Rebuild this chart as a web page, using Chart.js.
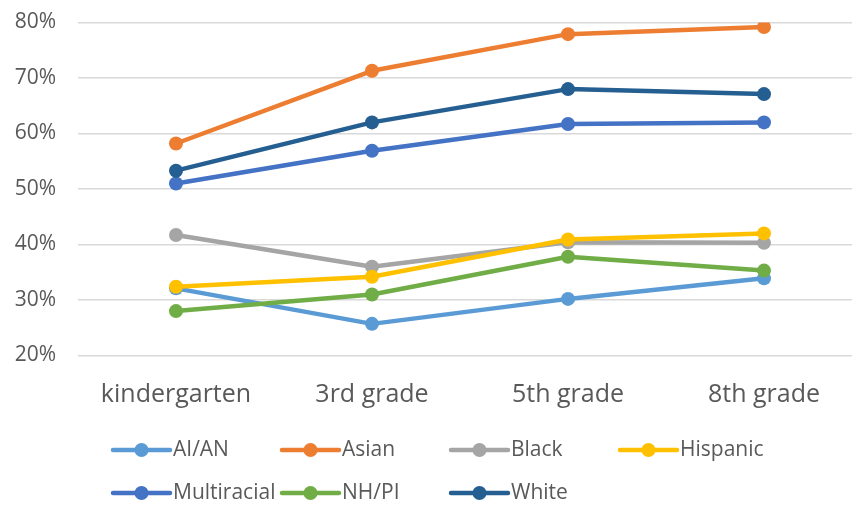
<!DOCTYPE html>
<html>
<head>
<meta charset="utf-8">
<script src="https://cdn.jsdelivr.net/npm/chart.js@4"></script>
<style>
  html, body { margin: 0; padding: 0; background: #fff; overflow: hidden; }
  #wrap { width: 852px; height: 506px; overflow: hidden; }
</style>
</head>
<body>
<div id="wrap"><canvas id="gradeChart" width="870" height="506"></canvas></div>
<script>
const grades = ['kindergarten', '3rd grade', '5th grade', '8th grade'];
const yTicks = [20, 30, 40, 50, 60, 70, 80];

const aian = [32.1, 25.7, 30.2, 33.9];
const asian = [58.2, 71.3, 77.9, 79.2];
const black = [41.7, 36.0, 40.4, 40.3];
const hispanic = [32.4, 34.2, 40.9, 42.0];
const multiracial = [51.0, 56.9, 61.7, 62.0];
const nhpi = [28.0, 31.0, 37.8, 35.3];
const white = [53.3, 62.0, 68.0, 67.1];

const seriesNames = ['AI/AN', 'Asian', 'Black', 'Hispanic', 'Multiracial', 'NH/PI', 'White'];
const seriesData = [aian, asian, black, hispanic, multiracial, nhpi, white];
const seriesColors = ['#5B9BD5', '#ED7D31', '#A5A5A5', '#FFC000', '#4472C4', '#70AD47', '#255E91'];

const textColor = '#595959';
const fontFamily = "'Open Sans', 'DejaVu Sans', sans-serif";

// legend drawn as a grid like the original (4 columns, 2 rows)
const gridLegend = {
    id: 'gridLegend',
    afterDraw(chart) {
        const ctx = chart.ctx;
        const startX = 113, colW = 169, rowY = [450, 493], lineLen = 57;
        ctx.save();
        chart.data.datasets.forEach((ds, i) => {
            const x = startX + (i % 4) * colW;
            const y = rowY[Math.floor(i / 4)];
            ctx.strokeStyle = ds.borderColor;
            ctx.lineWidth = 4.5;
            ctx.lineCap = 'round';
            ctx.beginPath();
            ctx.moveTo(x, y);
            ctx.lineTo(x + lineLen, y);
            ctx.stroke();
            ctx.fillStyle = ds.borderColor;
            ctx.beginPath();
            ctx.arc(x + lineLen / 2, y, 7, 0, Math.PI * 2);
            ctx.fill();
            ctx.fillStyle = textColor;
            ctx.font = '21px ' + fontFamily;
            ctx.textBaseline = 'middle';
            ctx.textAlign = 'left';
            ctx.fillText(ds.label, x + lineLen + 3, y);
        });
        ctx.restore();
    }
};

const ctx = document.getElementById('gradeChart').getContext('2d');
new Chart(ctx, {
    type: 'line',
    data: {
        labels: grades,
        datasets: seriesNames.map((name, i) => ({
            label: name,
            data: seriesData[i],
            borderColor: seriesColors[i],
            backgroundColor: seriesColors[i],
            borderWidth: 4.5,
            borderCapStyle: 'round',
            borderJoinStyle: 'round',
            pointRadius: 7,
            pointBorderWidth: 0,
            pointBackgroundColor: seriesColors[i],
            tension: 0,
            order: seriesNames.length - i   // later series drawn on top
        }))
    },
    options: {
        responsive: false,
        animation: false,
        layout: {
            padding: { left: 15, right: 8, top: 22.5, bottom: 90.5 }
        },
        plugins: {
            legend: { display: false },
            tooltip: { enabled: false }
        },
        scales: {
            x: {
                offset: true,
                afterFit(scale) { scale.height = 60; },
                grid: { display: false },
                border: { display: false },
                ticks: {
                    color: textColor,
                    padding: 16,
                    font: { family: fontFamily, size: 25 }
                }
            },
            y: {
                min: 20,
                max: 80,
                afterFit(scale) {
                    scale.width = 63;
                    scale.paddingTop = 0;
                    scale.paddingBottom = 0;
                },
                afterBuildTicks(scale) {
                    scale.ticks = yTicks.map(v => ({ value: v }));
                },
                grid: {
                    color: '#d9d9d9',
                    lineWidth: 1.5,
                    drawTicks: false
                },
                border: { display: false },
                ticks: {
                    color: textColor,
                    padding: 22,
                    font: { family: fontFamily, size: 21 },
                    callback: v => v + '%'
                }
            }
        }
    },
    plugins: [gridLegend]
});
</script>
</body>
</html>
